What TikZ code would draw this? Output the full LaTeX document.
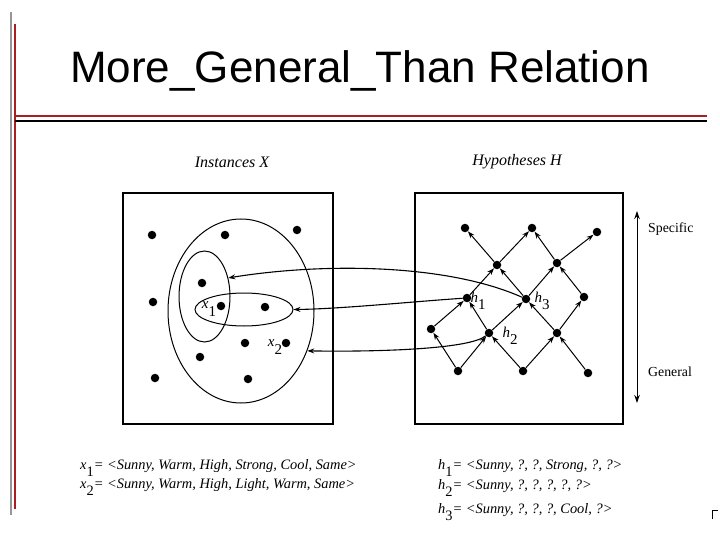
\documentclass[tikz,border=0pt]{standalone}
\usepackage{fontspec}
\setmainfont{Liberation Serif}
\newfontfamily\titlefont{Liberation Sans}
\usetikzlibrary{shapes.geometric,arrows.meta}
\definecolor{barred}{RGB}{170,30,35}
\definecolor{bargray}{RGB}{150,150,150}
\tikzset{
  dot/.style={circle,fill=black,inner sep=0pt,minimum size=8.5pt},
  edge/.style={-{Stealth[length=7pt,width=5pt]},line width=1pt},
  link/.style={-{Stealth[length=7pt,width=5pt]},line width=1.1pt},
  region/.style={draw,ellipse,inner sep=0pt,line width=1pt},
  panel/.style={draw,line width=1.2pt},
  lbl/.style={inner sep=0pt,font=\fontsize{15}{17}\selectfont},
  eqn/.style={inner sep=0pt,anchor=base west,font=\fontsize{14.4}{17}\selectfont\itshape},
  side/.style={inner sep=0pt,font=\fontsize{13.8}{16}\selectfont}
}
\newcommand{\sbx}[1]{\raisebox{-1.1ex}{\upshape #1}}
\begin{document}
\begin{tikzpicture}[x=1pt,y=-1pt]
\useasboundingbox[fill=white] (0,0) rectangle (720,540);
% frame lines
\draw[bargray,line width=2.5pt] (11,12) -- (11,515);
\draw[barred,line width=1.8pt] (15,24) -- (15,509);
\draw[barred,line width=2pt] (15,116) -- (707,116);
\draw[black,line width=1.5pt] (15,121) -- (707,121);
\draw[line width=1pt] (712,519) -- (712,510) -- (718,510);
% title
\node[anchor=base,inner sep=0pt,font=\titlefont\fontsize{44}{48}\selectfont] (title) at (360,83) {More\_General\_Than Relation};
% headings
\node[lbl,font=\fontsize{16}{18}\selectfont\itshape] (hx) at (232,162) {Instances X};
\node[lbl,font=\fontsize{16}{18}\selectfont\itshape] (hh) at (517,162) {Hypotheses H};
% panels
\draw[panel] (123,193) rectangle (333,424);
\draw[panel] (415,193) rectangle (623,424);
% ellipses
\node[region,minimum width=146pt,minimum height=184pt] (big) at (241,311) {};
\node[region,minimum width=51pt,minimum height=91pt] (tall) at (204.5,296.5) {};
\node[region,minimum width=98pt,minimum height=33pt] (flat) at (244,309.5) {};
% instance dots
\node[dot] (l1) at (152,235) {};
\node[dot] (l2) at (225,235) {};
\node[dot] (l3) at (297,230) {};
\node[dot] (l4) at (202,283) {};
\node[dot] (l5) at (153,302) {};
\node[dot] (l6) at (221,306) {};
\node[dot] (l7) at (265,307) {};
\node[dot] (l8) at (245,343) {};
\node[dot] (l9) at (286,343) {};
\node[dot] (l10) at (200,357) {};
\node[dot] (l11) at (155,378) {};
\node[dot] (l12) at (248,379) {};
\node[lbl] (x1lab) at (209,309) {\itshape x\sbx{1}};
\node[lbl] (x2lab) at (275,347) {\itshape x\sbx{2}};
% hypothesis dots
\node[dot] (a1) at (465,228) {};
\node[dot] (a2) at (532,228) {};
\node[dot] (a3) at (597,232) {};
\node[dot] (b1) at (497,265) {};
\node[dot] (b2) at (557,263) {};
\node[dot] (c1) at (467,298) {};
\node[dot] (c2) at (526,299) {};
\node[dot] (c3) at (584,297) {};
\node[dot] (d1) at (431,329) {};
\node[dot] (d2) at (489,333) {};
\node[dot] (d3) at (557,333) {};
\node[dot] (e1) at (458,371) {};
\node[dot] (e2) at (523,371) {};
\node[dot] (e3) at (588,373) {};
\foreach \s/\t in {b1/a1,b1/a2,b2/a2,b2/a3,c1/b1,c2/b1,c2/b2,c3/b2,d1/c1,d2/c1,d2/c2,d3/c2,d3/c3,e1/d1,e1/d2,e2/d2,e2/d3,e3/d3}
  \draw[edge] (\s) -- (\t);
\node[lbl] (h1lab) at (478,301) {\itshape h\sbx{1}};
\node[lbl] (h3lab) at (542,301) {\itshape h\sbx{3}};
\node[lbl] (h2lab) at (510,336) {\itshape h\sbx{2}};
% mapping curves
\draw[link] (c2) .. controls (445,263) and (320,263) .. (tall.38);
\draw[link] (c1) .. controls (420,301) and (340,309) .. (flat.east);
\draw[link] (d2) .. controls (470,349) and (380,352) .. (big.-31);
% specific-general axis
\coordinate (axtop) at (637,211);
\coordinate (axbot) at (637,403);
\draw[{Stealth[length=8pt,width=5.5pt]}-{Stealth[length=8pt,width=5.5pt]},line width=1pt] (axtop) -- (axbot);
\node[side,anchor=west] (spec) at (648,229) {Specific};
\node[side,anchor=west] (gen) at (648,372) {General};
% definitions
\node[eqn] (dx1) at (80,469) {x\sbx{1}= <Sunny, Warm, High, Strong, Cool, Same>};
\node[eqn] (dx2) at (80,488) {x\sbx{2}= <Sunny, Warm, High, Light, Warm, Same>};
\node[eqn] (dh1) at (438,469) {h\sbx{1}= <Sunny, ?, ?, Strong, ?, ?>};
\node[eqn] (dh2) at (438,489) {h\sbx{2}= <Sunny, ?, ?, ?, ?, ?>};
\node[eqn] (dh3) at (438,513) {h\sbx{3}= <Sunny, ?, ?, ?, Cool, ?>};
\end{tikzpicture}
\end{document}
